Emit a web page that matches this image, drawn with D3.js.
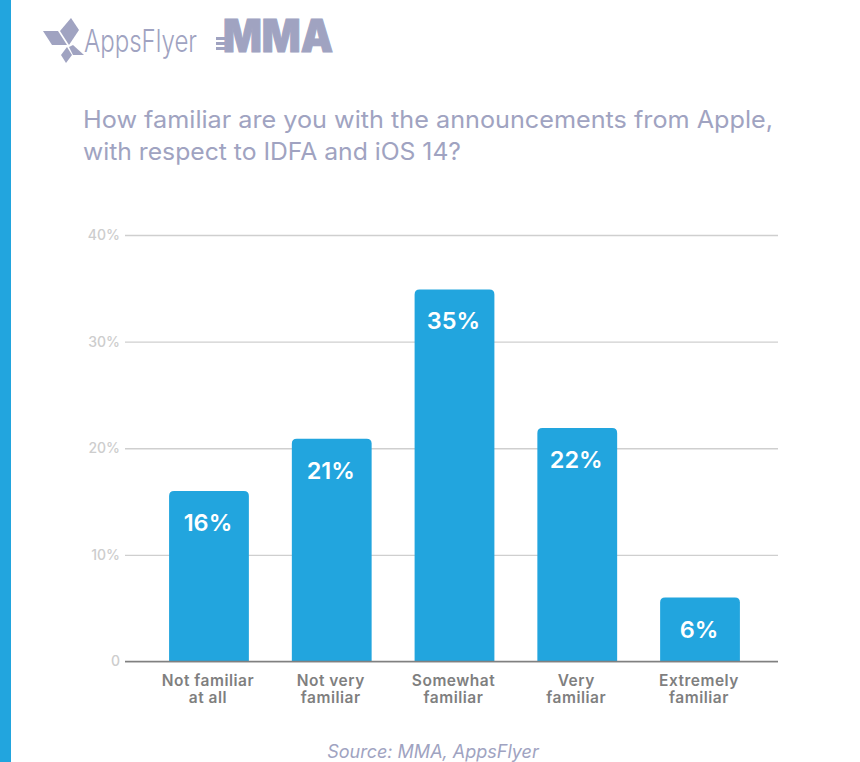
<!DOCTYPE html>
<html>
<head>
<meta charset="utf-8">
<script src="https://cdn.jsdelivr.net/npm/d3@7"></script>
<style>
  html, body { margin: 0; padding: 0; background: #fff; }
  svg { display: block; }
  text { font-family: Inter, "Open Sans", sans-serif; }
</style>
</head>
<body>
<div id="chart"></div>
<script>
// chart values
const categories = [["Not familiar", "at all"], ["Not very", "familiar"], ["Somewhat", "familiar"], ["Very", "familiar"], ["Extremely", "familiar"]];
const shares = [16, 20.9, 34.9, 21.9, 6];
const yTicks = [0, 10, 20, 30, 40];
const titleLines = ["How familiar are you with the announcements from Apple,", "with respect to IDFA and iOS 14?"];
const source = "Source: MMA, AppsFlyer";

const blue = "#22a5de";
const lilac = "#a0a3c1";

const svg = d3.select("#chart").append("svg").attr("width", 860).attr("height", 762);

// blue strip on the left
svg.append("rect").attr("width", 11).attr("height", 762).attr("fill", blue);

// logos
const logo = svg.append("g").attr("fill", lilac);
[
  "M71,18L79,30L69,45L60,31Z",
  "M43,31L58,31L67,45L52,45Z",
  "M73,45L84,55L73,55L69,47Z",
  "M67,47L72,55L66,63L61,55Z"
].forEach(d => logo.append("path").attr("d", d));
logo.append("text").attr("x", 84).attr("y", 52).attr("font-size", 31).attr("font-weight", 300)
  .attr("textLength", 113).attr("lengthAdjust", "spacingAndGlyphs").text("AppsFlyer");
logo.append("text").attr("x", 223).attr("y", 51.5).attr("font-size", 45).attr("font-weight", 900)
  .attr("stroke", lilac).attr("stroke-width", 1)
  .attr("textLength", 110).attr("lengthAdjust", "spacingAndGlyphs").text("MMA");
[37, 42, 47].forEach(y => logo.append("rect").attr("x", 216).attr("y", y).attr("width", 9).attr("height", 3));

// title
svg.append("g").selectAll("text").data(titleLines).join("text")
  .attr("x", 83).attr("y", (d, i) => 128 + i * 32)
  .attr("font-size", 24).attr("font-weight", 400).attr("fill", lilac)
  .attr("textLength", (d, i) => i === 0 ? 690 : 378)
  .attr("lengthAdjust", "spacingAndGlyphs")
  .text(d => d);

const y = d3.scaleLinear().domain([0, 40]).range([661.5, 235]);
const x = d3.scaleBand().domain(d3.range(categories.length)).range([147.6, 761.4]).paddingInner(0.35).paddingOuter(0.175);

// y axis with the gridlines
const yAxis = svg.append("g").attr("transform", "translate(125,0)")
  .call(d3.axisLeft(y).tickValues(yTicks).tickSize(-653).tickPadding(5).tickFormat(d => d === 0 ? "0" : d + "%"));
yAxis.select(".domain").remove();
yAxis.selectAll("line").attr("stroke", "#cfcfcf").attr("stroke-width", 1.3);
yAxis.selectAll("text").attr("fill", "#cdcdcd").attr("font-size", 14).attr("font-weight", 500).style("font-family", "Inter");

// bars, rounded on top only
const barPath = (d, i) => {
  const x0 = x(i), x1 = x0 + x.bandwidth(), top = y(d), base = y(0), r = 5;
  return `M${x0},${base}V${top + r}Q${x0},${top} ${x0 + r},${top}H${x1 - r}Q${x1},${top} ${x1},${top + r}V${base}Z`;
};
svg.append("g").selectAll("path").data(shares).join("path")
  .attr("d", barPath).attr("fill", blue);

// baseline over the bars
svg.append("line").attr("x1", 125).attr("x2", 778).attr("y1", y(0)).attr("y2", y(0))
  .attr("stroke", "#808080").attr("stroke-width", 1.5);

// value labels inside the bars
svg.append("g").selectAll("text").data(shares).join("text")
  .attr("x", (d, i) => x(i) + x.bandwidth() / 2 - 1)
  .attr("y", d => y(d) + 40)
  .attr("text-anchor", "middle").attr("fill", "#fff")
  .attr("font-size", 23.5).attr("font-weight", 600)
  .text(d => Math.round(d) + "%");

// category labels
const catLabels = svg.append("g").selectAll("text").data(categories).join("text")
  .attr("text-anchor", "middle").attr("fill", "#7f7f7f")
  .attr("font-size", 15.5).attr("font-weight", 600).attr("letter-spacing", 0.5);
catLabels.selectAll("tspan").data((d, i) => d.map(line => ({ line, i }))).join("tspan")
  .attr("x", d => x(d.i) + x.bandwidth() / 2 - 1)
  .attr("y", (d, j) => 686 + j * 17)
  .text(d => d.line);

// source line
svg.append("text").attr("x", 433).attr("y", 758).attr("text-anchor", "middle")
  .attr("font-size", 18).attr("font-style", "italic").attr("fill", lilac).text(source);
</script>
</body>
</html>
